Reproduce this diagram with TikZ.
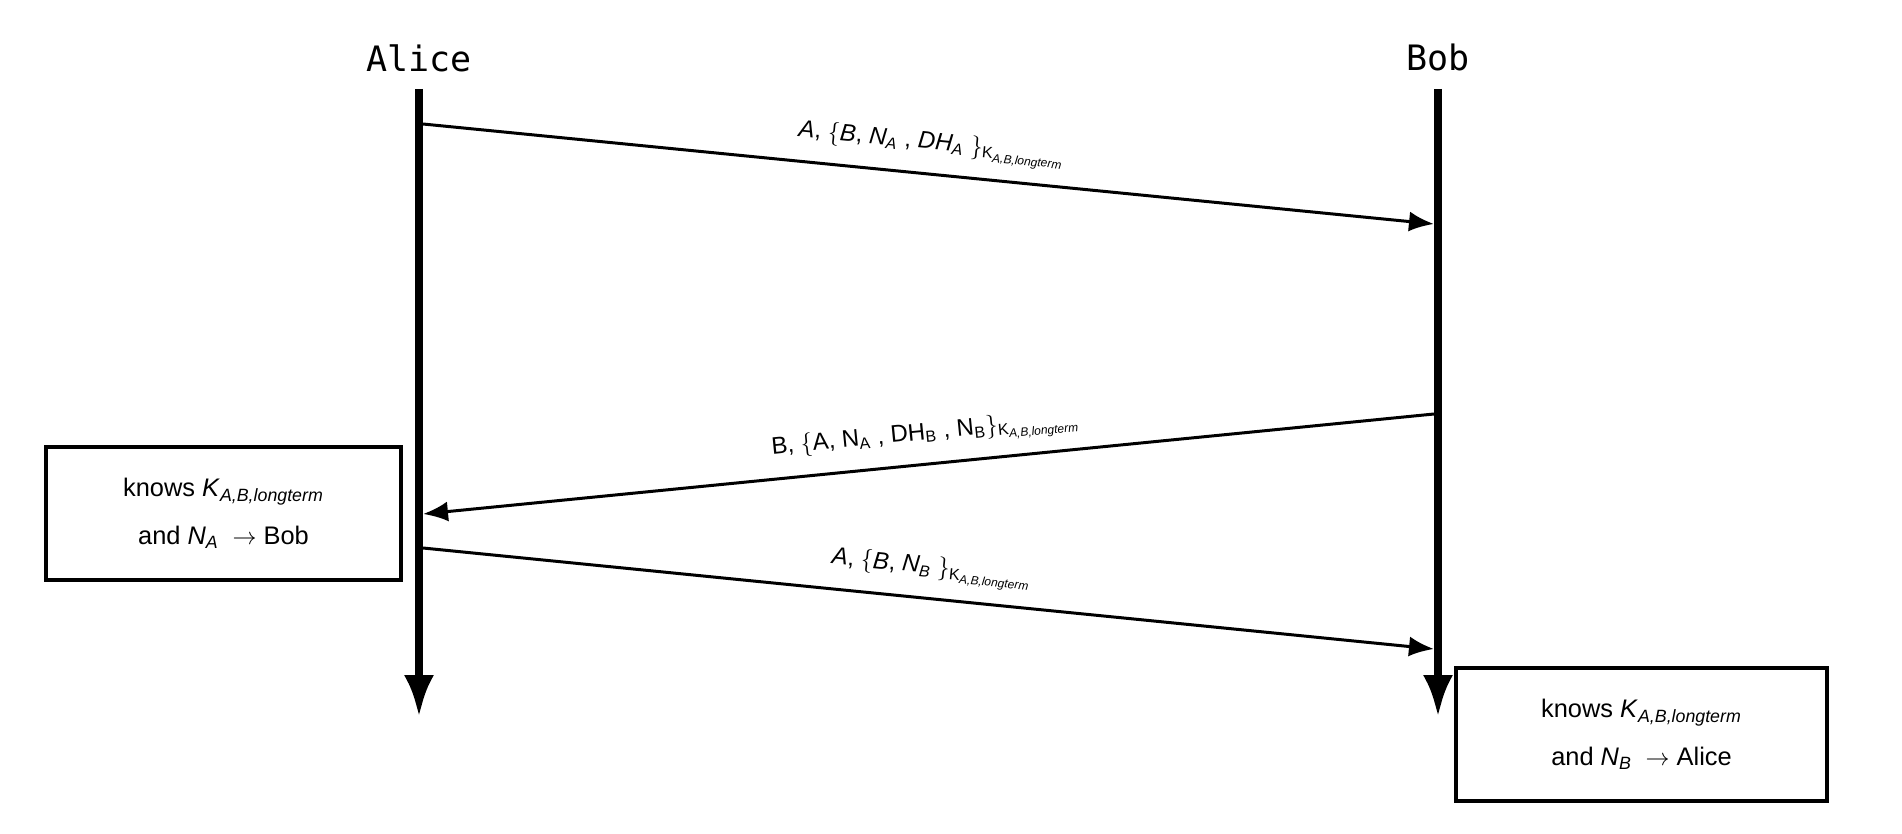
\documentclass[tikz,border=0pt]{standalone}
\usepackage{fontspec}
\setmainfont{Liberation Sans}
\newfontfamily\sqmono{DejaVu Sans Mono}
\usetikzlibrary{arrows.meta,positioning,calc}
\definecolor{sqink}{HTML}{000000}
\newcommand{\sqkey}{\textsubscript{K\textsubscript{\textit{A,B,longterm}}}}
\tikzset{
  sqname/.style={font=\sqmono\fontsize{17.5}{20}\selectfont, anchor=base, inner sep=0pt},
  sqlife/.style={-{Latex[length=21pt,width=15pt]}, draw=sqink, line width=4pt},
  sqmsg/.style={-{Latex[length=12.5pt,width=10pt]}, draw=sqink, line width=1.5pt},
  sqlabel/.style={font=\fontsize{12}{14}\selectfont, midway, sloped, above=6pt, inner sep=1pt},
  sqbox/.style={draw=sqink, line width=1.75pt, align=center, minimum height=66.5pt,
                font=\fontsize{12.7}{16}\selectfont},
}

\begin{document}
\begin{tikzpicture}[x=0.5pt,y=-0.5pt]
  \useasboundingbox (0,0) rectangle (1902,834);
  % participants
  \node[sqname] (alice) at (419,72) {Alice};
  \node[sqname] (bob) at (1438,71) {Bob};
  \coordinate (atop) at (419,89);  \coordinate (abot) at (419,717);
  \coordinate (btop) at (1438,89); \coordinate (bbot) at (1438,717);
  \draw[sqlife] (atop) -- (abot);
  \draw[sqlife] (btop) -- (bbot);
  % messages
  \coordinate (m1s) at (423,124);  \coordinate (m1e) at (1434,224);
  \coordinate (m2s) at (1434,414); \coordinate (m2e) at (423,514);
  \coordinate (m3s) at (423,548);  \coordinate (m3e) at (1434,649);
  \draw[sqmsg] (m1s) -- (m1e)
    node[sqlabel] {\textit{A}, $\{$\textit{B}, \textit{N}\textsubscript{\textit{A}} , \textit{DH}\textsubscript{\textit{A}} $\}$\sqkey};
  \draw[sqmsg] (m2s) -- (m2e)
    node[sqlabel] {B, $\{$A, N\textsubscript{A} , DH\textsubscript{B} , N\textsubscript{B}$\}$\sqkey};
  \draw[sqmsg] (m3s) -- (m3e)
    node[sqlabel] {\textit{A}, $\{$\textit{B}, \textit{N}\textsubscript{\textit{B}} $\}$\sqkey};
  % what each side knows
  \node[sqbox, minimum width=177.5pt] (aknows) at (223.5,513.5)
    {knows \textit{K}\textsubscript{\textit{A,B,longterm}}\\[8pt] and \textit{N}\textsubscript{\textit{A}} $\;\rightarrow$ Bob};
  \node[sqbox, minimum width=185.5pt] (bknows) at (1641.5,734.5)
    {knows \textit{K}\textsubscript{\textit{A,B,longterm}}\\[8pt] and \textit{N}\textsubscript{\textit{B}} $\;\rightarrow$ Alice};
\end{tikzpicture}
\end{document}
